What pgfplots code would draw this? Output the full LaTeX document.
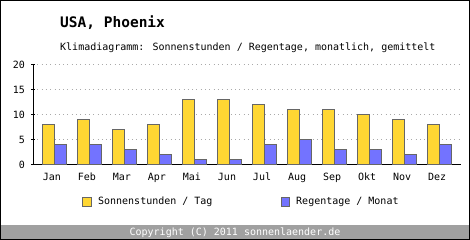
\documentclass[border=0pt]{standalone}
\usepackage{fontspec}
\setmainfont{DejaVu Sans Mono}
\usepackage{pgfplots}
\pgfplotsset{compat=1.18}
\definecolor{sunY}{HTML}{FFD733}
\definecolor{rainB}{HTML}{7373FF}
\definecolor{barE}{HTML}{666666}
\definecolor{band}{HTML}{A0A0A0}
\definecolor{gridc}{HTML}{AAAAAA}
\begin{document}
\begin{tikzpicture}[x=1pt,y=1pt]
\fill[white] (0,0) rectangle (470,240);
\fill[band] (0,0) rectangle (470,15);
\node[white, anchor=base, inner sep=0pt, font=\fontsize{10}{12}\selectfont] at (235,4) {Copyright (C) 2011 sonnenlaender.de};
\node[anchor=base west, inner sep=0pt, font=\fontsize{14.5}{16}\selectfont\bfseries] at (60,212.7) {USA, Phoenix};
\node[anchor=base west, inner sep=0pt, font=\fontsize{10}{12}\selectfont] at (60,189) {Klimadiagramm: Sonnenstunden / Regentage, monatlich, gemittelt};
\begin{axis}[
  at={(33pt,75pt)}, anchor=south west, scale only axis,
  width=428pt, height=100pt,
  xmin=-0.61, xmax=11.61, ymin=0, ymax=20,
  ytick={0,5,10,15,20},
  xtick={0,...,11},
  xticklabels={Jan,Feb,Mar,Apr,Mai,Jun,Jul,Aug,Sep,Okt,Nov,Dez},
  axis lines=left, axis line style={-, line width=1pt, black},
  ybar=0pt, bar width=12pt,
  ymajorgrids, major grid style={gridc, line width=1pt, dash pattern=on 1pt off 3.3pt},
  tick align=center, major tick length=4pt,
  ytick style={black, line width=1pt}, xtick style={draw=none},
  tick label style={font=\fontsize{10}{12}\selectfont},
  /pgf/number format/assume math mode=true,
  yticklabel style={anchor=east, xshift=-6pt, inner sep=0pt},
  xticklabel style={anchor=base, inner sep=0pt, yshift=-14pt, xshift=-2.5pt},
  legend columns=2,
  legend style={at={(0.115,-0.367)}, anchor=west, draw=none, fill=none, inner sep=0pt,
    font=\fontsize{10}{12}\selectfont,
    /tikz/every odd column/.append style={column sep=4pt},
    /tikz/every even column/.append style={column sep=66pt}},
  legend image code/.code={\draw[#1, line width=1pt] (0pt,-4.35pt) rectangle (8.7pt,4.35pt);},
]
\addplot[fill=sunY, draw=barE, line width=1pt] coordinates {(0,8) (1,9) (2,7) (3,8) (4,13) (5,13) (6,12) (7,11) (8,11) (9,10) (10,9) (11,8)};
\addplot[fill=rainB, draw=barE, line width=1pt] coordinates {(0,4) (1,4) (2,3) (3,2) (4,1) (5,1) (6,4) (7,5) (8,3) (9,3) (10,2) (11,4)};
\legend{Sonnenstunden / Tag, Regentage / Monat}
\end{axis}
\draw[black, line width=1pt] (0.5,0.5) rectangle (469.5,239.5);
\end{tikzpicture}
\end{document}
